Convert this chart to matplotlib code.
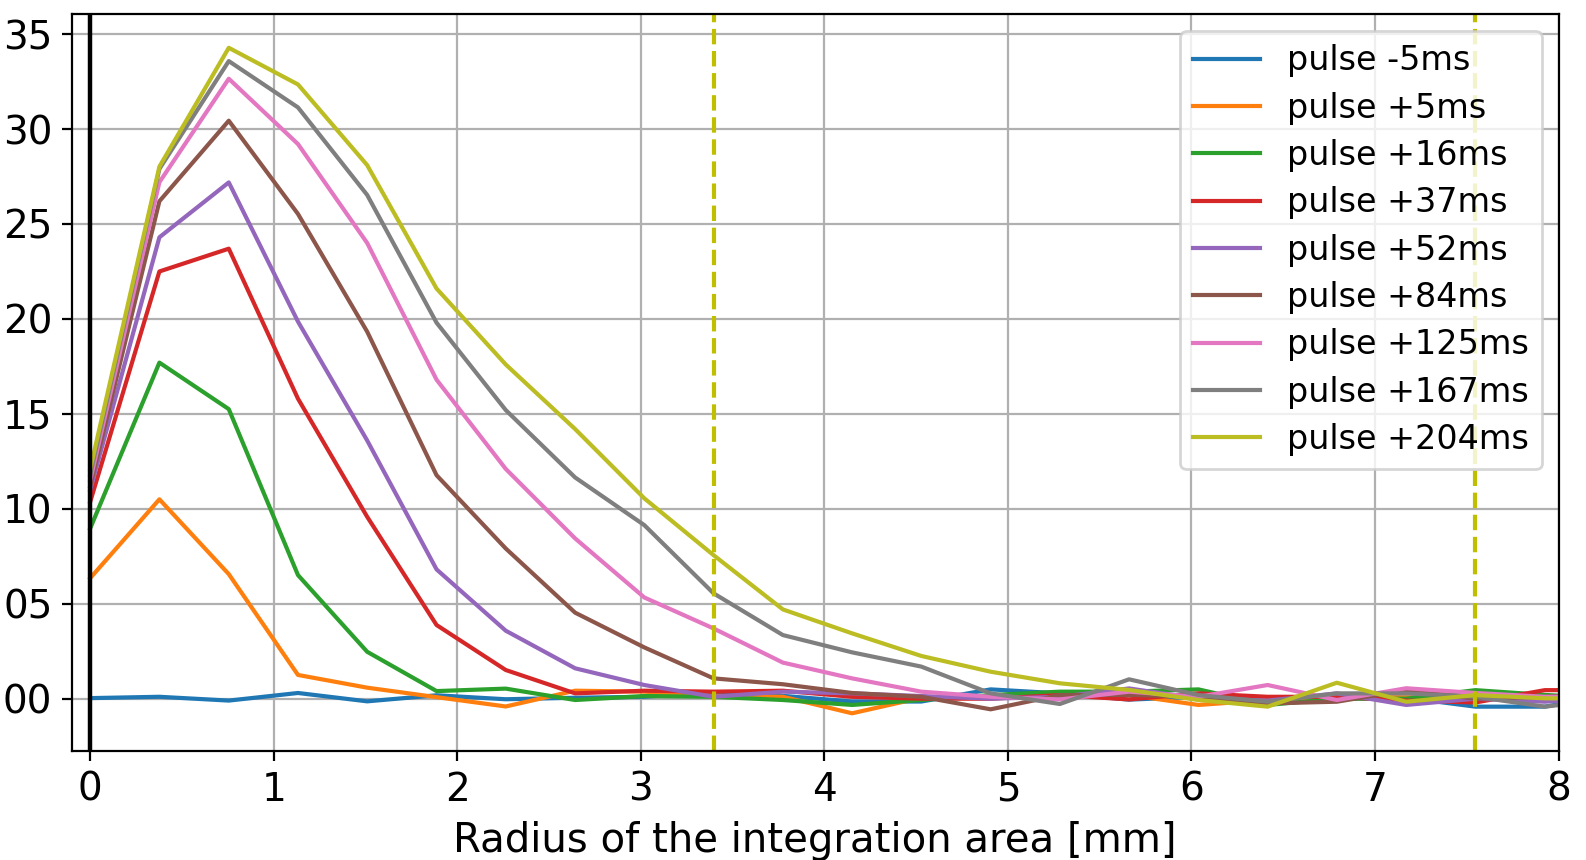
import matplotlib
matplotlib.use("Agg")
import matplotlib.pyplot as plt
from matplotlib.ticker import FuncFormatter

radii = [0.0, 0.377, 0.755, 1.132, 1.509, 1.887, 2.264, 2.642, 3.019, 3.396, 3.774, 4.151,
         4.528, 4.906, 5.283, 5.660, 6.038, 6.415, 6.792, 7.170, 7.547, 7.925, 8.302]

labels = ["pulse -5ms", "pulse +5ms", "pulse +16ms", "pulse +37ms", "pulse +52ms",
          "pulse +84ms", "pulse +125ms", "pulse +167ms", "pulse +204ms"]

pulse_m5 = [0.03, 0.10, -0.10, 0.30, -0.14, 0.18, -0.03, 0.05, 0.10, 0.35, 0.15, -0.15,
            -0.15, 0.49, 0.28, -0.05, 0.10, -0.10, 0.00, 0.05, -0.42, -0.42, 0.20]
pulse_p5 = [6.35, 10.50, 6.56, 1.25, 0.58, 0.08, -0.41, 0.42, 0.37, 0.15, 0.10, -0.77,
            0.05, 0.10, 0.28, 0.19, -0.33, -0.07, 0.10, 0.07, 0.10, 0.00, 0.10]
pulse_p16 = [8.97, 17.70, 15.25, 6.51, 2.47, 0.40, 0.53, -0.07, 0.14, 0.10, -0.07, -0.33,
             -0.07, 0.19, 0.37, 0.37, 0.49, -0.33, 0.00, 0.00, 0.45, 0.20, 0.00]
pulse_p37 = [10.37, 22.50, 23.70, 15.80, 9.58, 3.88, 1.51, 0.28, 0.42, 0.37, 0.42, 0.10,
             0.00, 0.00, 0.19, -0.04, 0.28, 0.10, 0.10, -0.10, -0.20, 0.45, 0.45]
pulse_p52 = [11.00, 24.30, 27.19, 19.86, 13.60, 6.81, 3.58, 1.60, 0.72, 0.10, 0.37, 0.28,
             0.14, 0.00, 0.10, 0.54, 0.00, -0.10, 0.28, -0.33, 0.00, -0.16, 0.10]
pulse_p84 = [11.20, 26.20, 30.44, 25.53, 19.33, 11.77, 7.91, 4.53, 2.70, 1.07, 0.76, 0.30,
             0.10, -0.56, 0.19, 0.20, 0.10, -0.25, -0.16, 0.45, 0.00, 0.10, 0.30]
pulse_p125 = [11.50, 27.20, 32.65, 29.21, 24.00, 16.80, 12.10, 8.44, 5.33, 3.70, 1.90, 1.07,
              0.37, 0.10, -0.04, 0.37, 0.10, 0.72, -0.07, 0.55, 0.30, 0.10, 0.10]
pulse_p167 = [11.80, 27.90, 33.58, 31.14, 26.53, 19.80, 15.20, 11.65, 9.14, 5.55, 3.35, 2.44,
              1.69, 0.28, -0.28, 1.02, 0.19, -0.16, 0.28, 0.28, 0.10, -0.42, 0.00]
pulse_p204 = [12.10, 28.02, 34.28, 32.35, 28.10, 21.60, 17.60, 14.20, 10.55, 7.56, 4.70, 3.44,
              2.25, 1.42, 0.81, 0.46, -0.07, -0.42, 0.84, -0.16, 0.19, 0.02, 0.00]

series = [pulse_m5, pulse_p5, pulse_p16, pulse_p37, pulse_p52,
          pulse_p84, pulse_p125, pulse_p167, pulse_p204]

marker_radii = [3.396, 7.547]

plt.rcParams['font.family'] = ['DejaVu Sans']
plt.rcParams['font.size'] = 14

fig = plt.figure(figsize=(7.93, 4.30), dpi=200)
ax = fig.add_axes([0.0453, 0.1262, 0.9374, 0.8573])

for vals, lab in zip(series, labels):
    ax.plot(radii, vals, label=lab, lw=1.5)

ax.axvline(0, color='k', lw=1.6)
for r in marker_radii:
    ax.axvline(r, color='y', ls='--', lw=1.5)

ax.set_xlim(-0.1, 8)
ax.set_ylim(-2.78, 36.05)
ax.set_yticks([0, 5, 10, 15, 20, 25, 30, 35])
ax.yaxis.set_major_formatter(FuncFormatter(lambda v, p: f"{int(round(v)):02d}"))
ax.set_xticks(range(0, 9))
ax.grid(True)
ax.set_xlabel("Radius of the integration area [mm]", fontsize=14.5, labelpad=4.5)
ax.legend(loc='upper right', fontsize=12, labelspacing=0.43)

fig.savefig("out.png", dpi=200)
